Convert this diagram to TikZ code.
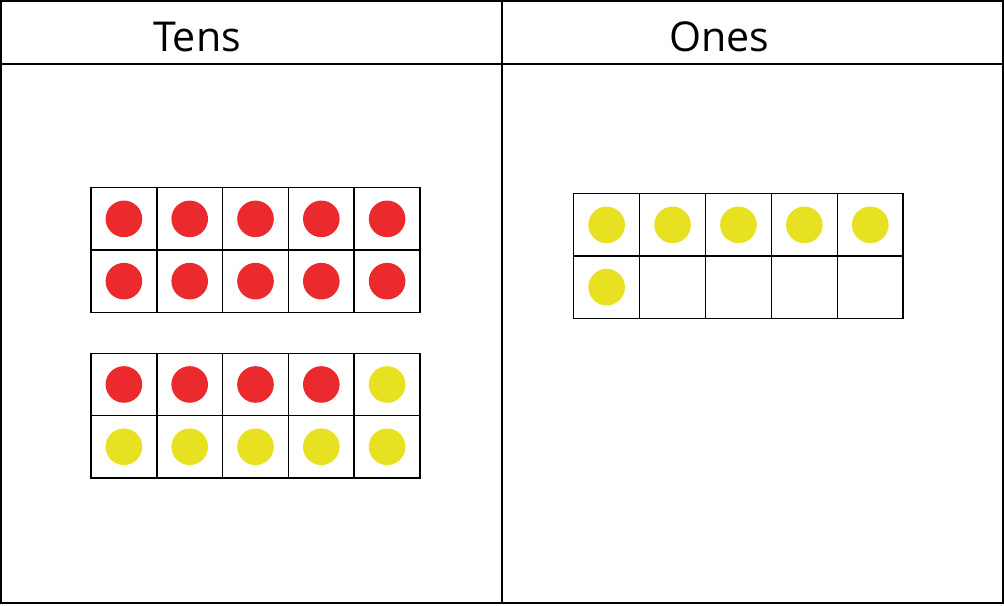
\documentclass[tikz,border=0pt]{standalone}
\usepackage{fontspec}
\setmainfont{Open Sans}
\definecolor{dotred}{HTML}{EB2A2E}
\definecolor{dotyellow}{HTML}{E8E121}
\begin{document}
\begin{tikzpicture}[x=0.01cm,y=-0.01cm,
every node/.style={inner sep=0pt},
cell/.style={draw,line width=0.4pt,minimum width=6.58mm,minimum height=6.23mm},
reddot/.style={circle,fill=dotred,minimum size=3.66mm},
yellowdot/.style={circle,fill=dotyellow,minimum size=3.66mm},
heading/.style={anchor=base,font=\fontsize{11.7}{14}\selectfont}]

\useasboundingbox (0,0) rectangle (1004,605);

% table
\coordinate (nw) at (1,1);
\coordinate (se) at (1003,603);
\coordinate (hl) at (1,64);
\coordinate (hr) at (1003,64);
\coordinate (mt) at (502,1);
\coordinate (mb) at (502,603);
\draw[line width=0.45pt] (nw) rectangle (se);
\draw[line width=0.45pt] (hl) -- (hr);
\draw[line width=0.45pt] (mt) -- (mb);

\node[heading] (tens) at (197,51.7) {Tens};
\node[heading] (ones) at (719,51.7) {Ones};

% ten frames
\foreach \n in {0,...,9}{
  \pgfmathtruncatemacro{\r}{int(\n/5)}
  \pgfmathtruncatemacro{\c}{mod(\n,5)}
  \node[cell] (a-\n) at ({91+65.8*\c+32.9},{187.7+62.3*\r+31.15}) {};
  \node[cell] (b-\n) at ({91+65.8*\c+32.9},{353.3+62.3*\r+31.15}) {};
  \node[cell] (c-\n) at ({573.7+65.9*\c+32.95},{193.7+62.3*\r+31.15}) {};
  \node[reddot] (da-\n) at (a-\n) {};
  \ifnum\n<4
    \node[reddot] (db-\n) at (b-\n) {};
  \else
    \node[yellowdot] (db-\n) at (b-\n) {};
  \fi
  \ifnum\n<6
    \node[yellowdot] (dc-\n) at (c-\n) {};
  \fi
}

\end{tikzpicture}
\end{document}
